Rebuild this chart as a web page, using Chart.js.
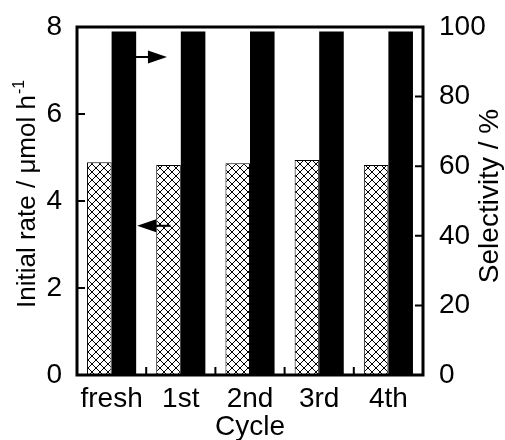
<!DOCTYPE html>
<html>
<head>
<meta charset="utf-8">
<script src="https://cdn.jsdelivr.net/npm/chart.js@4.4.1/dist/chart.umd.min.js"></script>
<style>
  html, body { margin: 0; padding: 0; background: #fff; }
  #wrap { width: 505px; height: 440px; }
</style>
</head>
<body>
<div id="wrap"><canvas id="cycleChart" width="505" height="440"></canvas></div>
<script>
const cycles = ["fresh", "1st", "2nd", "3rd", "4th"];
const initialRate = [4.89, 4.83, 4.87, 4.94, 4.83];   // µmol h-1, left axis
const selectivity = [98.7, 98.7, 98.7, 98.7, 98.7];   // %, right axis
const rateTicks = [0, 2, 4, 6, 8];
const selTicks = [0, 20, 40, 60, 80, 100];
// arrows: [x from, x to (category units), y (left axis units)], head at "to"
const arrowRight = [0.35, 0.80, 7.31];
const arrowLeft = [0.85, 0.37, 3.43];

const FONT = "'Liberation Sans', Arial, sans-serif";

function crossHatch() {
    const c = document.createElement("canvas");
    c.width = 8; c.height = 8;
    const g = c.getContext("2d");
    g.fillStyle = "#fff";
    g.fillRect(0, 0, 8, 8);
    g.strokeStyle = "#000";
    g.lineWidth = 1;
    g.beginPath();
    g.moveTo(0, 0); g.lineTo(8, 8);
    g.moveTo(0, 8); g.lineTo(8, 0);
    g.stroke();
    return g.createPattern(c, "repeat");
}

// frame, inward ticks, arrows and axis titles
const framePlugin = {
    id: "frame",
    afterDatasetsDraw(chart) {
        const ctx = chart.ctx;
        const a = chart.chartArea;
        const x = chart.scales.x, yl = chart.scales.y, yr = chart.scales.y2;
        ctx.save();
        ctx.strokeStyle = "#000";
        ctx.lineWidth = 3;
        ctx.strokeRect(a.left, a.top, a.right - a.left, a.bottom - a.top);
        ctx.lineWidth = 2;
        ctx.beginPath();
        rateTicks.slice(1, -1).forEach(v => {
            const p = yl.getPixelForValue(v);
            ctx.moveTo(a.left, p); ctx.lineTo(a.left + 8, p);
        });
        selTicks.slice(1, -1).forEach(v => {
            const p = yr.getPixelForValue(v);
            ctx.moveTo(a.right, p); ctx.lineTo(a.right - 8, p);
        });
        for (let i = 0; i < cycles.length - 1; i++) {
            const p = (x.getPixelForValue(i) + x.getPixelForValue(i + 1)) / 2;
            ctx.moveTo(p, a.bottom); ctx.lineTo(p, a.bottom - 8);
        }
        ctx.stroke();

        const step = x.getPixelForValue(1) - x.getPixelForValue(0);
        [arrowRight, arrowLeft].forEach(ar => {
            const x0 = x.getPixelForValue(0) + ar[0] * step;
            const x1 = x.getPixelForValue(0) + ar[1] * step;
            const yy = yl.getPixelForValue(ar[2]);
            const dir = Math.sign(x1 - x0);
            ctx.lineWidth = 2;
            ctx.beginPath();
            ctx.moveTo(x0, yy); ctx.lineTo(x1 - dir * 16, yy);
            ctx.stroke();
            ctx.fillStyle = "#000";
            ctx.beginPath();
            ctx.moveTo(x1, yy);
            ctx.lineTo(x1 - dir * 19, yy - 6.5);
            ctx.lineTo(x1 - dir * 19, yy + 6.5);
            ctx.closePath();
            ctx.fill();
        });

        // axis titles
        ctx.fillStyle = "#000";
        ctx.textBaseline = "alphabetic";
        ctx.font = "28px " + FONT;
        ctx.textAlign = "center";
        ctx.fillText("Cycle", (a.left + a.right) / 2, 435);

        ctx.save();
        ctx.translate(35, 308);
        ctx.rotate(-Math.PI / 2);
        ctx.textAlign = "left";
        ctx.font = "26px " + FONT;
        const main = "Initial rate / μmol h";
        ctx.fillText(main, 0, 0);
        const w = ctx.measureText(main).width;
        ctx.font = "16px " + FONT;
        ctx.fillText("-1", w + 1, -11);
        ctx.restore();

        ctx.save();
        ctx.translate(498, (109 + 283) / 2);
        ctx.rotate(-Math.PI / 2);
        ctx.textAlign = "center";
        ctx.font = "28px " + FONT;
        ctx.fillText("Selectivity / %", 0, 0);
        ctx.restore();

        ctx.restore();
    }
};

const tickFont = { family: FONT, size: 28 };

const ctx = document.getElementById("cycleChart").getContext("2d");
new Chart(ctx, {
    type: "bar",
    data: {
        labels: cycles,
        datasets: [{
            label: "Initial rate",
            data: initialRate,
            yAxisID: "y",
            backgroundColor: crossHatch(),
            borderColor: "#000",
            borderWidth: 1,
            categoryPercentage: 0.71,
            barPercentage: 1.0
        }, {
            label: "Selectivity",
            data: selectivity,
            yAxisID: "y2",
            backgroundColor: "#000",
            borderWidth: 0,
            categoryPercentage: 0.71,
            barPercentage: 1.0
        }]
    },
    options: {
        responsive: false,
        animation: false,
        layout: { padding: { top: 27, left: 0, right: 0, bottom: 0 } },
        plugins: { legend: { display: false }, tooltip: { enabled: false } },
        scales: {
            x: {
                grid: { display: false },
                border: { display: false },
                ticks: { color: "#000", font: tickFont, padding: -1, maxRotation: 0 },
                afterFit(s) { s.height = 65; }
            },
            y: {
                position: "left",
                min: 0, max: 8,
                afterBuildTicks(s) { s.ticks = rateTicks.map(v => ({ value: v })); },
                grid: { display: false },
                border: { display: false },
                ticks: { color: "#000", font: tickFont, padding: 7 },
                afterFit(s) { s.width = 77; }
            },
            y2: {
                position: "right",
                min: 0, max: 100,
                afterBuildTicks(s) { s.ticks = selTicks.map(v => ({ value: v })); },
                grid: { display: false },
                border: { display: false },
                ticks: { color: "#000", font: tickFont, padding: 8 },
                afterFit(s) { s.width = 82; }
            }
        }
    },
    plugins: [framePlugin]
});
</script>
</body>
</html>
